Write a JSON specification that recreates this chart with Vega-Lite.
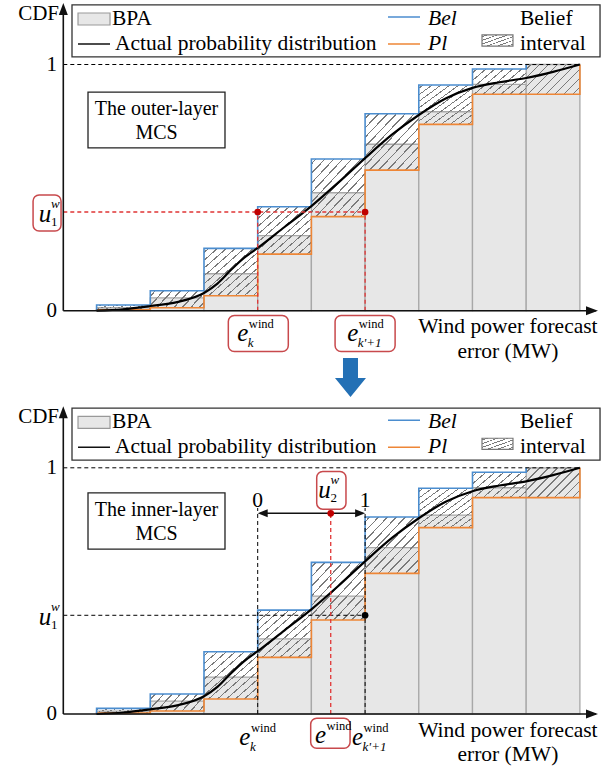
{
"$schema": "https://vega.github.io/schema/vega-lite/v6.json",
"background": "white",
"padding": 0,
"spacing": 0,
"bounds": "flush",
"config": {"view": {"stroke": null}, "text": {"font": "Liberation Serif", "color": "#000"}},
"datasets": {
"bins": [
{"k":1,"x0":1,"x1":2,"bel":0.023,"mid":0.012,"pl":0.004},
{"k":2,"x0":2,"x1":3,"bel":0.081,"mid":0.052,"pl":0.012},
{"k":3,"x0":3,"x1":4,"bel":0.253,"mid":0.150,"pl":0.061},
{"k":4,"x0":4,"x1":5,"bel":0.422,"mid":0.305,"pl":0.230},
{"k":5,"x0":5,"x1":6,"bel":0.616,"mid":0.479,"pl":0.382},
{"k":6,"x0":6,"x1":7,"bel":0.800,"mid":0.676,"pl":0.571},
{"k":7,"x0":7,"x1":8,"bel":0.917,"mid":0.808,"pl":0.757},
{"k":8,"x0":8,"x1":9,"bel":0.982,"mid":0.919,"pl":0.879},
{"k":9,"x0":9,"x1":10,"bel":1.0,"mid":1.0,"pl":0.879}],
"bel": [
{"i":0,"x":1,"y":0},{"i":1,"x":1,"y":0.023},{"i":2,"x":2,"y":0.081},{"i":3,"x":3,"y":0.253},{"i":4,"x":4,"y":0.422},{"i":5,"x":5,"y":0.616},{"i":6,"x":6,"y":0.800},{"i":7,"x":7,"y":0.917},{"i":8,"x":8,"y":0.982},{"i":9,"x":9,"y":1.0}],
"pl": [
{"i":0,"x":1,"y":0},{"i":1,"x":1,"y":0.004},{"i":2,"x":2,"y":0.012},{"i":3,"x":3,"y":0.061},{"i":4,"x":4,"y":0.230},{"i":5,"x":5,"y":0.382},{"i":6,"x":6,"y":0.571},{"i":7,"x":7,"y":0.757},{"i":8,"x":8,"y":0.879},{"i":9,"x":9,"y":0.879},{"i":10,"x":10,"y":0.879},{"i":11,"x":10,"y":1.0}],
"cdf": [
{"x":1,"y":0},{"x":1.5,"y":0.006},{"x":2,"y":0.019},{"x":2.5,"y":0.035},{"x":3,"y":0.072},{"x":3.25,"y":0.11},{"x":3.5,"y":0.165},{"x":3.75,"y":0.215},{"x":4,"y":0.255},{"x":4.5,"y":0.34},{"x":5,"y":0.425},{"x":5.5,"y":0.52},{"x":6,"y":0.62},{"x":6.5,"y":0.715},{"x":7,"y":0.795},{"x":7.5,"y":0.862},{"x":8,"y":0.905},{"x":8.5,"y":0.928},{"x":9,"y":0.945},{"x":9.5,"y":0.97},{"x":10,"y":1.0}],
"legendLeft": [
{"x":1.287,"y":1.185,"t":"BPA"},{"x":1.343,"y":1.083,"t":"Actual probability distribution"},{"x":8.885,"y":1.185,"t":"Belief"},{"x":8.885,"y":1.083,"t":"interval"}],
"legendItalic": [
{"x":7.1715,"y":1.185,"t":"Bel"},{"x":7.1715,"y":1.083,"t":"Pl"}],
"axisLabels": [
{"x":0.30,"y":1.205,"t":"CDF"},{"x":0.263,"y":1,"t":"1"},{"x":0.263,"y":0,"t":"0"}],
"axisSolid": [
{"x":0.38,"x2":0.38,"y":0,"y2":1.215},{"x":0.38,"x2":10.3,"y":0,"y2":0}],
"blackLegend": [{"x":0.654,"x2":1.25,"y":1.083,"y2":1.083}],
"legendBox": [{"x":0.542,"x2":10.375,"y":1.031,"y2":1.242}],
"bpaSwatch": [{"x":0.654,"x2":1.25,"y":1.1604,"y2":1.2092}],
"hatchSwatch": [{"x":8.177,"x2":8.754,"y":1.075,"y2":1.12}],
"blueLegend": [{"x":6.4266,"x2":7.0225,"y":1.193,"y2":1.193}],
"orangeLegend": [{"x":6.4266,"x2":7.0225,"y":1.083,"y2":1.083}],
"yArrow": [{"x":0.38,"y":1.25}],
"xArrow": [{"x":10.337,"y":0}]
},
"vconcat": [
{
"width": 608, "height": 403,
"layer": [
{"data":{"name":"bins"},"mark":{"type":"rect","fill":"#e7e7e7","stroke":"#a8a8a8","strokeWidth":1.3},
"encoding":{"x":{"field":"x0","type":"quantitative","scale":{"domain":[-0.7988,10.5234],"nice":false,"zero":false},"axis":null},"x2":{"field":"x1"},"y":{"field":"mid","type":"quantitative","scale":{"domain":[-0.3749,1.262],"nice":false,"zero":false},"axis":null},"y2":{"datum":0}}},
{"data":{"name":"bins"},"transform":[{"filter":"datum.k >= 3 && datum.k <= 7"}],"mark":{"type":"rect","strokeWidth":0,"fill":{"gradient":"linear","x1":0,"y1":0,"x2":1,"y2":1,"stops":[
{"offset":0,"color":"rgba(122,122,122,0)"},
{"offset":0.035,"color":"rgba(122,122,122,0)"},{"offset":0.035,"color":"#7a7a7a"},{"offset":0.049,"color":"#7a7a7a"},{"offset":0.049,"color":"rgba(122,122,122,0)"},
{"offset":0.1183,"color":"rgba(122,122,122,0)"},{"offset":0.1183,"color":"#7a7a7a"},{"offset":0.1323,"color":"#7a7a7a"},{"offset":0.1323,"color":"rgba(122,122,122,0)"},
{"offset":0.2017,"color":"rgba(122,122,122,0)"},{"offset":0.2017,"color":"#7a7a7a"},{"offset":0.2157,"color":"#7a7a7a"},{"offset":0.2157,"color":"rgba(122,122,122,0)"},
{"offset":0.285,"color":"rgba(122,122,122,0)"},{"offset":0.285,"color":"#7a7a7a"},{"offset":0.299,"color":"#7a7a7a"},{"offset":0.299,"color":"rgba(122,122,122,0)"},
{"offset":0.3683,"color":"rgba(122,122,122,0)"},{"offset":0.3683,"color":"#7a7a7a"},{"offset":0.3823,"color":"#7a7a7a"},{"offset":0.3823,"color":"rgba(122,122,122,0)"},
{"offset":0.4517,"color":"rgba(122,122,122,0)"},{"offset":0.4517,"color":"#7a7a7a"},{"offset":0.4657,"color":"#7a7a7a"},{"offset":0.4657,"color":"rgba(122,122,122,0)"},
{"offset":0.535,"color":"rgba(122,122,122,0)"},{"offset":0.535,"color":"#7a7a7a"},{"offset":0.549,"color":"#7a7a7a"},{"offset":0.549,"color":"rgba(122,122,122,0)"},
{"offset":0.6183,"color":"rgba(122,122,122,0)"},{"offset":0.6183,"color":"#7a7a7a"},{"offset":0.6323,"color":"#7a7a7a"},{"offset":0.6323,"color":"rgba(122,122,122,0)"},
{"offset":0.7017,"color":"rgba(122,122,122,0)"},{"offset":0.7017,"color":"#7a7a7a"},{"offset":0.7157,"color":"#7a7a7a"},{"offset":0.7157,"color":"rgba(122,122,122,0)"},
{"offset":0.785,"color":"rgba(122,122,122,0)"},{"offset":0.785,"color":"#7a7a7a"},{"offset":0.799,"color":"#7a7a7a"},{"offset":0.799,"color":"rgba(122,122,122,0)"},
{"offset":0.8683,"color":"rgba(122,122,122,0)"},{"offset":0.8683,"color":"#7a7a7a"},{"offset":0.8823,"color":"#7a7a7a"},{"offset":0.8823,"color":"rgba(122,122,122,0)"},
{"offset":0.9517,"color":"rgba(122,122,122,0)"},{"offset":0.9517,"color":"#7a7a7a"},{"offset":0.9657,"color":"#7a7a7a"},{"offset":0.9657,"color":"rgba(122,122,122,0)"},
{"offset":1,"color":"rgba(122,122,122,0)"}]}},
"encoding":{"x":{"field":"x0","type":"quantitative","scale":{"domain":[-0.7988,10.5234],"nice":false,"zero":false},"axis":null},"x2":{"field":"x1"},"y":{"field":"bel","type":"quantitative","scale":{"domain":[-0.3749,1.262],"nice":false,"zero":false},"axis":null},"y2":{"field":"pl"}}},
{"data":{"name":"bins"},"transform":[{"filter":"datum.k >= 8"}],"mark":{"type":"rect","strokeWidth":0,"fill":{"gradient":"linear","x1":0,"y1":0,"x2":1.8,"y2":1,"stops":[
{"offset":0,"color":"rgba(122,122,122,0)"},
{"offset":0.03,"color":"rgba(122,122,122,0)"},{"offset":0.03,"color":"#7a7a7a"},{"offset":0.042,"color":"#7a7a7a"},{"offset":0.042,"color":"rgba(122,122,122,0)"},
{"offset":0.1008,"color":"rgba(122,122,122,0)"},{"offset":0.1008,"color":"#7a7a7a"},{"offset":0.1128,"color":"#7a7a7a"},{"offset":0.1128,"color":"rgba(122,122,122,0)"},
{"offset":0.1716,"color":"rgba(122,122,122,0)"},{"offset":0.1716,"color":"#7a7a7a"},{"offset":0.1836,"color":"#7a7a7a"},{"offset":0.1836,"color":"rgba(122,122,122,0)"},
{"offset":0.2424,"color":"rgba(122,122,122,0)"},{"offset":0.2424,"color":"#7a7a7a"},{"offset":0.2544,"color":"#7a7a7a"},{"offset":0.2544,"color":"rgba(122,122,122,0)"},
{"offset":0.3132,"color":"rgba(122,122,122,0)"},{"offset":0.3132,"color":"#7a7a7a"},{"offset":0.3252,"color":"#7a7a7a"},{"offset":0.3252,"color":"rgba(122,122,122,0)"},
{"offset":0.384,"color":"rgba(122,122,122,0)"},{"offset":0.384,"color":"#7a7a7a"},{"offset":0.396,"color":"#7a7a7a"},{"offset":0.396,"color":"rgba(122,122,122,0)"},
{"offset":0.4548,"color":"rgba(122,122,122,0)"},{"offset":0.4548,"color":"#7a7a7a"},{"offset":0.4668,"color":"#7a7a7a"},{"offset":0.4668,"color":"rgba(122,122,122,0)"},
{"offset":0.5256,"color":"rgba(122,122,122,0)"},{"offset":0.5256,"color":"#7a7a7a"},{"offset":0.5376,"color":"#7a7a7a"},{"offset":0.5376,"color":"rgba(122,122,122,0)"},
{"offset":0.5964,"color":"rgba(122,122,122,0)"},{"offset":0.5964,"color":"#7a7a7a"},{"offset":0.6084,"color":"#7a7a7a"},{"offset":0.6084,"color":"rgba(122,122,122,0)"},
{"offset":0.6672,"color":"rgba(122,122,122,0)"},{"offset":0.6672,"color":"#7a7a7a"},{"offset":0.6792,"color":"#7a7a7a"},{"offset":0.6792,"color":"rgba(122,122,122,0)"},
{"offset":1,"color":"rgba(122,122,122,0)"}]}},
"encoding":{"x":{"field":"x0","type":"quantitative","scale":{"domain":[-0.7988,10.5234],"nice":false,"zero":false},"axis":null},"x2":{"field":"x1"},"y":{"field":"bel","type":"quantitative","scale":{"domain":[-0.3749,1.262],"nice":false,"zero":false},"axis":null},"y2":{"field":"pl"}}},
{"data":{"name":"bins"},"transform":[{"filter":"datum.k <= 2"}],"mark":{"type":"rect","strokeWidth":0,"fill":{"gradient":"linear","x1":0,"y1":0,"x2":3.5,"y2":1,"stops":[
{"offset":0,"color":"rgba(122,122,122,0)"},
{"offset":0.02,"color":"rgba(122,122,122,0)"},{"offset":0.02,"color":"#7a7a7a"},{"offset":0.028,"color":"#7a7a7a"},{"offset":0.028,"color":"rgba(122,122,122,0)"},
{"offset":0.0616,"color":"rgba(122,122,122,0)"},{"offset":0.0616,"color":"#7a7a7a"},{"offset":0.0696,"color":"#7a7a7a"},{"offset":0.0696,"color":"rgba(122,122,122,0)"},
{"offset":0.1032,"color":"rgba(122,122,122,0)"},{"offset":0.1032,"color":"#7a7a7a"},{"offset":0.1112,"color":"#7a7a7a"},{"offset":0.1112,"color":"rgba(122,122,122,0)"},
{"offset":0.1448,"color":"rgba(122,122,122,0)"},{"offset":0.1448,"color":"#7a7a7a"},{"offset":0.1528,"color":"#7a7a7a"},{"offset":0.1528,"color":"rgba(122,122,122,0)"},
{"offset":0.1864,"color":"rgba(122,122,122,0)"},{"offset":0.1864,"color":"#7a7a7a"},{"offset":0.1944,"color":"#7a7a7a"},{"offset":0.1944,"color":"rgba(122,122,122,0)"},
{"offset":0.228,"color":"rgba(122,122,122,0)"},{"offset":0.228,"color":"#7a7a7a"},{"offset":0.236,"color":"#7a7a7a"},{"offset":0.236,"color":"rgba(122,122,122,0)"},
{"offset":0.2696,"color":"rgba(122,122,122,0)"},{"offset":0.2696,"color":"#7a7a7a"},{"offset":0.2776,"color":"#7a7a7a"},{"offset":0.2776,"color":"rgba(122,122,122,0)"},
{"offset":0.3112,"color":"rgba(122,122,122,0)"},{"offset":0.3112,"color":"#7a7a7a"},{"offset":0.3192,"color":"#7a7a7a"},{"offset":0.3192,"color":"rgba(122,122,122,0)"},
{"offset":0.3528,"color":"rgba(122,122,122,0)"},{"offset":0.3528,"color":"#7a7a7a"},{"offset":0.3608,"color":"#7a7a7a"},{"offset":0.3608,"color":"rgba(122,122,122,0)"},
{"offset":1,"color":"rgba(122,122,122,0)"}]}},
"encoding":{"x":{"field":"x0","type":"quantitative","scale":{"domain":[-0.7988,10.5234],"nice":false,"zero":false},"axis":null},"x2":{"field":"x1"},"y":{"field":"bel","type":"quantitative","scale":{"domain":[-0.3749,1.262],"nice":false,"zero":false},"axis":null},"y2":{"field":"pl"}}},
{"data":{"name":"pl"},"mark":{"type":"line","interpolate":"step-after","color":"#ee8636","strokeWidth":1.6},
"encoding":{"x":{"field":"x","type":"quantitative","scale":{"domain":[-0.7988,10.5234],"nice":false,"zero":false},"axis":null},"y":{"field":"y","type":"quantitative","scale":{"domain":[-0.3749,1.262],"nice":false,"zero":false},"axis":null},"order":{"field":"i","type":"quantitative"}}},
{"data":{"name":"bel"},"mark":{"type":"line","interpolate":"step-after","color":"#4b8dcf","strokeWidth":1.6},
"encoding":{"x":{"field":"x","type":"quantitative","scale":{"domain":[-0.7988,10.5234],"nice":false,"zero":false},"axis":null},"y":{"field":"y","type":"quantitative","scale":{"domain":[-0.3749,1.262],"nice":false,"zero":false},"axis":null},"order":{"field":"i","type":"quantitative"}}},
{"data":{"name":"cdf"},"mark":{"type":"line","interpolate":"monotone","color":"#000","strokeWidth":2.2},
"encoding":{"x":{"field":"x","type":"quantitative","scale":{"domain":[-0.7988,10.5234],"nice":false,"zero":false},"axis":null},"y":{"field":"y","type":"quantitative","scale":{"domain":[-0.3749,1.262],"nice":false,"zero":false},"axis":null}}},
{"data":{"values":[{"x":0.38,"x2":10,"y":1,"y2":1}]},"mark":{"type":"rule","color":"#000","strokeWidth":1,"strokeDash":[4,3]},
"encoding":{"x":{"field":"x","type":"quantitative","scale":{"domain":[-0.7988,10.5234],"nice":false,"zero":false},"axis":null},"x2":{"field":"x2"},"y":{"field":"y","type":"quantitative","scale":{"domain":[-0.3749,1.262],"nice":false,"zero":false},"axis":null},"y2":{"field":"y2"}}},
{"data":{"values":[{"x":0.38,"x2":6,"y":0.4009,"y2":0.4009},{"x":4,"x2":4,"y":0,"y2":0.4009},{"x":6,"x2":6,"y":0,"y2":0.4009}]},"mark":{"type":"rule","color":"#e03535","strokeWidth":1.3,"strokeDash":[4,3]},
"encoding":{"x":{"field":"x","type":"quantitative","scale":{"domain":[-0.7988,10.5234],"nice":false,"zero":false},"axis":null},"x2":{"field":"x2"},"y":{"field":"y","type":"quantitative","scale":{"domain":[-0.3749,1.262],"nice":false,"zero":false},"axis":null},"y2":{"field":"y2"}}},
{"data":{"name":"axisSolid"},"mark":{"type":"rule","color":"#111","strokeWidth":1.6},
"encoding":{"x":{"field":"x","type":"quantitative","scale":{"domain":[-0.7988,10.5234],"nice":false,"zero":false},"axis":null},"x2":{"field":"x2"},"y":{"field":"y","type":"quantitative","scale":{"domain":[-0.3749,1.262],"nice":false,"zero":false},"axis":null},"y2":{"field":"y2"}}},
{"data":{"name":"yArrow"},"mark":{"type":"point","shape":"M0,0L0.75,2L-0.75,2Z","size":144,"filled":true,"color":"#111","opacity":1,"strokeWidth":0},
"encoding":{"x":{"field":"x","type":"quantitative","scale":{"domain":[-0.7988,10.5234],"nice":false,"zero":false},"axis":null},"y":{"field":"y","type":"quantitative","scale":{"domain":[-0.3749,1.262],"nice":false,"zero":false},"axis":null}}},
{"data":{"name":"xArrow"},"mark":{"type":"point","shape":"M0,0L-2,-0.75L-2,0.75Z","size":144,"filled":true,"color":"#111","opacity":1,"strokeWidth":0},
"encoding":{"x":{"field":"x","type":"quantitative","scale":{"domain":[-0.7988,10.5234],"nice":false,"zero":false},"axis":null},"y":{"field":"y","type":"quantitative","scale":{"domain":[-0.3749,1.262],"nice":false,"zero":false},"axis":null}}},
{"data":{"name":"legendBox"},"mark":{"type":"rect","fill":"white","stroke":"#333","strokeWidth":1.3},
"encoding":{"x":{"field":"x","type":"quantitative","scale":{"domain":[-0.7988,10.5234],"nice":false,"zero":false},"axis":null},"x2":{"field":"x2"},"y":{"field":"y","type":"quantitative","scale":{"domain":[-0.3749,1.262],"nice":false,"zero":false},"axis":null},"y2":{"field":"y2"}}},
{"data":{"name":"bpaSwatch"},"mark":{"type":"rect","fill":"#e7e7e7","stroke":"#999","strokeWidth":1.2},
"encoding":{"x":{"field":"x","type":"quantitative","scale":{"domain":[-0.7988,10.5234],"nice":false,"zero":false},"axis":null},"x2":{"field":"x2"},"y":{"field":"y","type":"quantitative","scale":{"domain":[-0.3749,1.262],"nice":false,"zero":false},"axis":null},"y2":{"field":"y2"}}},
{"data":{"name":"hatchSwatch"},"mark":{"type":"rect","stroke":"#777","strokeWidth":1.2,"fill":{"gradient":"linear","x1":0,"y1":0,"x2":1,"y2":1,"stops":[
{"offset":0,"color":"rgba(122,122,122,0)"},
{"offset":0.06,"color":"rgba(122,122,122,0)"},{"offset":0.06,"color":"#7a7a7a"},{"offset":0.1,"color":"#7a7a7a"},{"offset":0.1,"color":"rgba(122,122,122,0)"},
{"offset":0.227,"color":"rgba(122,122,122,0)"},{"offset":0.227,"color":"#7a7a7a"},{"offset":0.267,"color":"#7a7a7a"},{"offset":0.267,"color":"rgba(122,122,122,0)"},
{"offset":0.393,"color":"rgba(122,122,122,0)"},{"offset":0.393,"color":"#7a7a7a"},{"offset":0.433,"color":"#7a7a7a"},{"offset":0.433,"color":"rgba(122,122,122,0)"},
{"offset":0.56,"color":"rgba(122,122,122,0)"},{"offset":0.56,"color":"#7a7a7a"},{"offset":0.6,"color":"#7a7a7a"},{"offset":0.6,"color":"rgba(122,122,122,0)"},
{"offset":0.727,"color":"rgba(122,122,122,0)"},{"offset":0.727,"color":"#7a7a7a"},{"offset":0.767,"color":"#7a7a7a"},{"offset":0.767,"color":"rgba(122,122,122,0)"},
{"offset":0.893,"color":"rgba(122,122,122,0)"},{"offset":0.893,"color":"#7a7a7a"},{"offset":0.933,"color":"#7a7a7a"},{"offset":0.933,"color":"rgba(122,122,122,0)"},
{"offset":1,"color":"rgba(122,122,122,0)"}]}},
"encoding":{"x":{"field":"x","type":"quantitative","scale":{"domain":[-0.7988,10.5234],"nice":false,"zero":false},"axis":null},"x2":{"field":"x2"},"y":{"field":"y","type":"quantitative","scale":{"domain":[-0.3749,1.262],"nice":false,"zero":false},"axis":null},"y2":{"field":"y2"}}},
{"data":{"name":"blackLegend"},"mark":{"type":"rule","color":"#111","strokeWidth":1.5},
"encoding":{"x":{"field":"x","type":"quantitative","scale":{"domain":[-0.7988,10.5234],"nice":false,"zero":false},"axis":null},"x2":{"field":"x2"},"y":{"field":"y","type":"quantitative","scale":{"domain":[-0.3749,1.262],"nice":false,"zero":false},"axis":null}}},
{"data":{"name":"blueLegend"},"mark":{"type":"rule","color":"#4b8dcf","strokeWidth":1.5},
"encoding":{"x":{"field":"x","type":"quantitative","scale":{"domain":[-0.7988,10.5234],"nice":false,"zero":false},"axis":null},"x2":{"field":"x2"},"y":{"field":"y","type":"quantitative","scale":{"domain":[-0.3749,1.262],"nice":false,"zero":false},"axis":null}}},
{"data":{"name":"orangeLegend"},"mark":{"type":"rule","color":"#ee8636","strokeWidth":1.5},
"encoding":{"x":{"field":"x","type":"quantitative","scale":{"domain":[-0.7988,10.5234],"nice":false,"zero":false},"axis":null},"x2":{"field":"x2"},"y":{"field":"y","type":"quantitative","scale":{"domain":[-0.3749,1.262],"nice":false,"zero":false},"axis":null}}},
{"data":{"values":[{"x":0.84,"x2":3.391,"y":0.661,"y2":0.888}]},"mark":{"type":"rect","fill":"white","stroke":"#222","strokeWidth":1.3},
"encoding":{"x":{"field":"x","type":"quantitative","scale":{"domain":[-0.7988,10.5234],"nice":false,"zero":false},"axis":null},"x2":{"field":"x2"},"y":{"field":"y","type":"quantitative","scale":{"domain":[-0.3749,1.262],"nice":false,"zero":false},"axis":null},"y2":{"field":"y2"}}},
{"data":{"values":[{"x":-0.183,"x2":0.338,"y":0.3237,"y2":0.47},{"x":3.453,"x2":4.57,"y":-0.1657,"y2":-0.0195},{"x":5.441,"x2":6.559,"y":-0.1657,"y2":-0.0195}]},"mark":{"type":"rect","fill":"white","stroke":"#c8494c","strokeWidth":1.5,"cornerRadius":6},
"encoding":{"x":{"field":"x","type":"quantitative","scale":{"domain":[-0.7988,10.5234],"nice":false,"zero":false},"axis":null},"x2":{"field":"x2"},"y":{"field":"y","type":"quantitative","scale":{"domain":[-0.3749,1.262],"nice":false,"zero":false},"axis":null},"y2":{"field":"y2"}}},
{"data":{"name":"legendLeft"},"mark":{"type":"text","align":"left","baseline":"middle","fontSize":21.5},
"encoding":{"x":{"field":"x","type":"quantitative","scale":{"domain":[-0.7988,10.5234],"nice":false,"zero":false},"axis":null},"y":{"field":"y","type":"quantitative","scale":{"domain":[-0.3749,1.262],"nice":false,"zero":false},"axis":null},"text":{"field":"t"}}},
{"data":{"name":"legendItalic"},"mark":{"type":"text","align":"left","baseline":"middle","fontSize":21.5,"fontStyle":"italic"},
"encoding":{"x":{"field":"x","type":"quantitative","scale":{"domain":[-0.7988,10.5234],"nice":false,"zero":false},"axis":null},"y":{"field":"y","type":"quantitative","scale":{"domain":[-0.3749,1.262],"nice":false,"zero":false},"axis":null},"text":{"field":"t"}}},
{"data":{"name":"axisLabels"},"mark":{"type":"text","align":"right","baseline":"middle","fontSize":21},
"encoding":{"x":{"field":"x","type":"quantitative","scale":{"domain":[-0.7988,10.5234],"nice":false,"zero":false},"axis":null},"y":{"field":"y","type":"quantitative","scale":{"domain":[-0.3749,1.262],"nice":false,"zero":false},"axis":null},"text":{"field":"t"}}},
{"data":{"values":[{"x":2.116,"y":0.819,"t":"The outer-layer"},{"x":2.116,"y":0.722,"t":"MCS"}]},"mark":{"type":"text","align":"center","baseline":"middle","fontSize":20},
"encoding":{"x":{"field":"x","type":"quantitative","scale":{"domain":[-0.7988,10.5234],"nice":false,"zero":false},"axis":null},"y":{"field":"y","type":"quantitative","scale":{"domain":[-0.3749,1.262],"nice":false,"zero":false},"axis":null},"text":{"field":"t"}}},
{"data":{"values":[{"x":8.659,"y":-0.066,"t":"Wind power forecast"},{"x":8.659,"y":-0.168,"t":"error (MW)"}]},"mark":{"type":"text","align":"center","baseline":"middle","fontSize":21.5},
"encoding":{"x":{"field":"x","type":"quantitative","scale":{"domain":[-0.7988,10.5234],"nice":false,"zero":false},"axis":null},"y":{"field":"y","type":"quantitative","scale":{"domain":[-0.3749,1.262],"nice":false,"zero":false},"axis":null},"text":{"field":"t"}}},
{"data":{"values":[{"x":3.724,"y":-0.09,"b":"e","sp":"wind","sb":"k"},{"x":5.769,"y":-0.09,"b":"e","sp":"wind","sb":"k'+1"}]},
"encoding":{"x":{"field":"x","type":"quantitative","scale":{"domain":[-0.7988,10.5234],"nice":false,"zero":false},"axis":null},"y":{"field":"y","type":"quantitative","scale":{"domain":[-0.3749,1.262],"nice":false,"zero":false},"axis":null}},
"layer":[
{"mark":{"type":"text","align":"center","baseline":"middle","fontSize":25,"fontStyle":"italic"},"encoding":{"text":{"field":"b"}}},
{"mark":{"type":"text","align":"left","baseline":"middle","fontSize":12.5,"dx":6,"dy":-9},"encoding":{"text":{"field":"sp"}}},
{"mark":{"type":"text","align":"left","baseline":"middle","fontSize":13,"fontStyle":"italic","dx":5,"dy":10},"encoding":{"text":{"field":"sb"}}}]},
{"data":{"values":[{"x":0.039,"y":0.393,"b":"u","sp":"w","sb":"1"}]},
"encoding":{"x":{"field":"x","type":"quantitative","scale":{"domain":[-0.7988,10.5234],"nice":false,"zero":false},"axis":null},"y":{"field":"y","type":"quantitative","scale":{"domain":[-0.3749,1.262],"nice":false,"zero":false},"axis":null}},
"layer":[
{"mark":{"type":"text","align":"center","baseline":"middle","fontSize":25,"fontStyle":"italic"},"encoding":{"text":{"field":"b"}}},
{"mark":{"type":"text","align":"left","baseline":"middle","fontSize":13,"fontStyle":"italic","dx":6,"dy":-10},"encoding":{"text":{"field":"sp"}}},
{"mark":{"type":"text","align":"left","baseline":"middle","fontSize":13,"dx":6,"dy":8},"encoding":{"text":{"field":"sb"}}}]},
{"data":{"values":[{"x":4,"y":0.4009},{"x":6,"y":0.4009}]},"mark":{"type":"circle","size":45,"color":"#c00000","opacity":1},
"encoding":{"x":{"field":"x","type":"quantitative","scale":{"domain":[-0.7988,10.5234],"nice":false,"zero":false},"axis":null},"y":{"field":"y","type":"quantitative","scale":{"domain":[-0.3749,1.262],"nice":false,"zero":false},"axis":null}}},
{"data":{"values":[{"x":5.728,"y":-0.2713}]},"mark":{"type":"point","shape":"M-0.375,-0.975L0.375,-0.975L0.375,0.025L0.775,0.025L0,0.975L-0.775,0.025L-0.375,0.025Z","size":1600,"filled":true,"color":"#2370b5","opacity":1,"strokeWidth":0},
"encoding":{"x":{"field":"x","type":"quantitative","scale":{"domain":[-0.7988,10.5234],"nice":false,"zero":false},"axis":null},"y":{"field":"y","type":"quantitative","scale":{"domain":[-0.3749,1.262],"nice":false,"zero":false},"axis":null}}}
]
},
{
"width": 608, "height": 367,
"layer": [
{"data":{"name":"bins"},"mark":{"type":"rect","fill":"#e7e7e7","stroke":"#a8a8a8","strokeWidth":1.3},
"encoding":{"x":{"field":"x0","type":"quantitative","scale":{"domain":[-0.7988,10.5234],"nice":false,"zero":false},"axis":null},"x2":{"field":"x1"},"y":{"field":"mid","type":"quantitative","scale":{"domain":[-0.2275,1.2632],"nice":false,"zero":false},"axis":null},"y2":{"datum":0}}},
{"data":{"name":"bins"},"transform":[{"filter":"datum.k >= 3 && datum.k <= 7"}],"mark":{"type":"rect","strokeWidth":0,"fill":{"gradient":"linear","x1":0,"y1":0,"x2":1,"y2":1,"stops":[
{"offset":0,"color":"rgba(122,122,122,0)"},
{"offset":0.035,"color":"rgba(122,122,122,0)"},{"offset":0.035,"color":"#7a7a7a"},{"offset":0.049,"color":"#7a7a7a"},{"offset":0.049,"color":"rgba(122,122,122,0)"},
{"offset":0.1183,"color":"rgba(122,122,122,0)"},{"offset":0.1183,"color":"#7a7a7a"},{"offset":0.1323,"color":"#7a7a7a"},{"offset":0.1323,"color":"rgba(122,122,122,0)"},
{"offset":0.2017,"color":"rgba(122,122,122,0)"},{"offset":0.2017,"color":"#7a7a7a"},{"offset":0.2157,"color":"#7a7a7a"},{"offset":0.2157,"color":"rgba(122,122,122,0)"},
{"offset":0.285,"color":"rgba(122,122,122,0)"},{"offset":0.285,"color":"#7a7a7a"},{"offset":0.299,"color":"#7a7a7a"},{"offset":0.299,"color":"rgba(122,122,122,0)"},
{"offset":0.3683,"color":"rgba(122,122,122,0)"},{"offset":0.3683,"color":"#7a7a7a"},{"offset":0.3823,"color":"#7a7a7a"},{"offset":0.3823,"color":"rgba(122,122,122,0)"},
{"offset":0.4517,"color":"rgba(122,122,122,0)"},{"offset":0.4517,"color":"#7a7a7a"},{"offset":0.4657,"color":"#7a7a7a"},{"offset":0.4657,"color":"rgba(122,122,122,0)"},
{"offset":0.535,"color":"rgba(122,122,122,0)"},{"offset":0.535,"color":"#7a7a7a"},{"offset":0.549,"color":"#7a7a7a"},{"offset":0.549,"color":"rgba(122,122,122,0)"},
{"offset":0.6183,"color":"rgba(122,122,122,0)"},{"offset":0.6183,"color":"#7a7a7a"},{"offset":0.6323,"color":"#7a7a7a"},{"offset":0.6323,"color":"rgba(122,122,122,0)"},
{"offset":0.7017,"color":"rgba(122,122,122,0)"},{"offset":0.7017,"color":"#7a7a7a"},{"offset":0.7157,"color":"#7a7a7a"},{"offset":0.7157,"color":"rgba(122,122,122,0)"},
{"offset":0.785,"color":"rgba(122,122,122,0)"},{"offset":0.785,"color":"#7a7a7a"},{"offset":0.799,"color":"#7a7a7a"},{"offset":0.799,"color":"rgba(122,122,122,0)"},
{"offset":0.8683,"color":"rgba(122,122,122,0)"},{"offset":0.8683,"color":"#7a7a7a"},{"offset":0.8823,"color":"#7a7a7a"},{"offset":0.8823,"color":"rgba(122,122,122,0)"},
{"offset":0.9517,"color":"rgba(122,122,122,0)"},{"offset":0.9517,"color":"#7a7a7a"},{"offset":0.9657,"color":"#7a7a7a"},{"offset":0.9657,"color":"rgba(122,122,122,0)"},
{"offset":1,"color":"rgba(122,122,122,0)"}]}},
"encoding":{"x":{"field":"x0","type":"quantitative","scale":{"domain":[-0.7988,10.5234],"nice":false,"zero":false},"axis":null},"x2":{"field":"x1"},"y":{"field":"bel","type":"quantitative","scale":{"domain":[-0.2275,1.2632],"nice":false,"zero":false},"axis":null},"y2":{"field":"pl"}}},
{"data":{"name":"bins"},"transform":[{"filter":"datum.k >= 8"}],"mark":{"type":"rect","strokeWidth":0,"fill":{"gradient":"linear","x1":0,"y1":0,"x2":1.8,"y2":1,"stops":[
{"offset":0,"color":"rgba(122,122,122,0)"},
{"offset":0.03,"color":"rgba(122,122,122,0)"},{"offset":0.03,"color":"#7a7a7a"},{"offset":0.042,"color":"#7a7a7a"},{"offset":0.042,"color":"rgba(122,122,122,0)"},
{"offset":0.1008,"color":"rgba(122,122,122,0)"},{"offset":0.1008,"color":"#7a7a7a"},{"offset":0.1128,"color":"#7a7a7a"},{"offset":0.1128,"color":"rgba(122,122,122,0)"},
{"offset":0.1716,"color":"rgba(122,122,122,0)"},{"offset":0.1716,"color":"#7a7a7a"},{"offset":0.1836,"color":"#7a7a7a"},{"offset":0.1836,"color":"rgba(122,122,122,0)"},
{"offset":0.2424,"color":"rgba(122,122,122,0)"},{"offset":0.2424,"color":"#7a7a7a"},{"offset":0.2544,"color":"#7a7a7a"},{"offset":0.2544,"color":"rgba(122,122,122,0)"},
{"offset":0.3132,"color":"rgba(122,122,122,0)"},{"offset":0.3132,"color":"#7a7a7a"},{"offset":0.3252,"color":"#7a7a7a"},{"offset":0.3252,"color":"rgba(122,122,122,0)"},
{"offset":0.384,"color":"rgba(122,122,122,0)"},{"offset":0.384,"color":"#7a7a7a"},{"offset":0.396,"color":"#7a7a7a"},{"offset":0.396,"color":"rgba(122,122,122,0)"},
{"offset":0.4548,"color":"rgba(122,122,122,0)"},{"offset":0.4548,"color":"#7a7a7a"},{"offset":0.4668,"color":"#7a7a7a"},{"offset":0.4668,"color":"rgba(122,122,122,0)"},
{"offset":0.5256,"color":"rgba(122,122,122,0)"},{"offset":0.5256,"color":"#7a7a7a"},{"offset":0.5376,"color":"#7a7a7a"},{"offset":0.5376,"color":"rgba(122,122,122,0)"},
{"offset":0.5964,"color":"rgba(122,122,122,0)"},{"offset":0.5964,"color":"#7a7a7a"},{"offset":0.6084,"color":"#7a7a7a"},{"offset":0.6084,"color":"rgba(122,122,122,0)"},
{"offset":0.6672,"color":"rgba(122,122,122,0)"},{"offset":0.6672,"color":"#7a7a7a"},{"offset":0.6792,"color":"#7a7a7a"},{"offset":0.6792,"color":"rgba(122,122,122,0)"},
{"offset":1,"color":"rgba(122,122,122,0)"}]}},
"encoding":{"x":{"field":"x0","type":"quantitative","scale":{"domain":[-0.7988,10.5234],"nice":false,"zero":false},"axis":null},"x2":{"field":"x1"},"y":{"field":"bel","type":"quantitative","scale":{"domain":[-0.2275,1.2632],"nice":false,"zero":false},"axis":null},"y2":{"field":"pl"}}},
{"data":{"name":"bins"},"transform":[{"filter":"datum.k <= 2"}],"mark":{"type":"rect","strokeWidth":0,"fill":{"gradient":"linear","x1":0,"y1":0,"x2":3.5,"y2":1,"stops":[
{"offset":0,"color":"rgba(122,122,122,0)"},
{"offset":0.02,"color":"rgba(122,122,122,0)"},{"offset":0.02,"color":"#7a7a7a"},{"offset":0.028,"color":"#7a7a7a"},{"offset":0.028,"color":"rgba(122,122,122,0)"},
{"offset":0.0616,"color":"rgba(122,122,122,0)"},{"offset":0.0616,"color":"#7a7a7a"},{"offset":0.0696,"color":"#7a7a7a"},{"offset":0.0696,"color":"rgba(122,122,122,0)"},
{"offset":0.1032,"color":"rgba(122,122,122,0)"},{"offset":0.1032,"color":"#7a7a7a"},{"offset":0.1112,"color":"#7a7a7a"},{"offset":0.1112,"color":"rgba(122,122,122,0)"},
{"offset":0.1448,"color":"rgba(122,122,122,0)"},{"offset":0.1448,"color":"#7a7a7a"},{"offset":0.1528,"color":"#7a7a7a"},{"offset":0.1528,"color":"rgba(122,122,122,0)"},
{"offset":0.1864,"color":"rgba(122,122,122,0)"},{"offset":0.1864,"color":"#7a7a7a"},{"offset":0.1944,"color":"#7a7a7a"},{"offset":0.1944,"color":"rgba(122,122,122,0)"},
{"offset":0.228,"color":"rgba(122,122,122,0)"},{"offset":0.228,"color":"#7a7a7a"},{"offset":0.236,"color":"#7a7a7a"},{"offset":0.236,"color":"rgba(122,122,122,0)"},
{"offset":0.2696,"color":"rgba(122,122,122,0)"},{"offset":0.2696,"color":"#7a7a7a"},{"offset":0.2776,"color":"#7a7a7a"},{"offset":0.2776,"color":"rgba(122,122,122,0)"},
{"offset":0.3112,"color":"rgba(122,122,122,0)"},{"offset":0.3112,"color":"#7a7a7a"},{"offset":0.3192,"color":"#7a7a7a"},{"offset":0.3192,"color":"rgba(122,122,122,0)"},
{"offset":0.3528,"color":"rgba(122,122,122,0)"},{"offset":0.3528,"color":"#7a7a7a"},{"offset":0.3608,"color":"#7a7a7a"},{"offset":0.3608,"color":"rgba(122,122,122,0)"},
{"offset":1,"color":"rgba(122,122,122,0)"}]}},
"encoding":{"x":{"field":"x0","type":"quantitative","scale":{"domain":[-0.7988,10.5234],"nice":false,"zero":false},"axis":null},"x2":{"field":"x1"},"y":{"field":"bel","type":"quantitative","scale":{"domain":[-0.2275,1.2632],"nice":false,"zero":false},"axis":null},"y2":{"field":"pl"}}},
{"data":{"name":"pl"},"mark":{"type":"line","interpolate":"step-after","color":"#ee8636","strokeWidth":1.6},
"encoding":{"x":{"field":"x","type":"quantitative","scale":{"domain":[-0.7988,10.5234],"nice":false,"zero":false},"axis":null},"y":{"field":"y","type":"quantitative","scale":{"domain":[-0.2275,1.2632],"nice":false,"zero":false},"axis":null},"order":{"field":"i","type":"quantitative"}}},
{"data":{"name":"bel"},"mark":{"type":"line","interpolate":"step-after","color":"#4b8dcf","strokeWidth":1.6},
"encoding":{"x":{"field":"x","type":"quantitative","scale":{"domain":[-0.7988,10.5234],"nice":false,"zero":false},"axis":null},"y":{"field":"y","type":"quantitative","scale":{"domain":[-0.2275,1.2632],"nice":false,"zero":false},"axis":null},"order":{"field":"i","type":"quantitative"}}},
{"data":{"name":"cdf"},"mark":{"type":"line","interpolate":"monotone","color":"#000","strokeWidth":2.2},
"encoding":{"x":{"field":"x","type":"quantitative","scale":{"domain":[-0.7988,10.5234],"nice":false,"zero":false},"axis":null},"y":{"field":"y","type":"quantitative","scale":{"domain":[-0.2275,1.2632],"nice":false,"zero":false},"axis":null}}},
{"data":{"values":[{"x":0.38,"x2":10,"y":1,"y2":1},{"x":0.38,"x2":6,"y":0.4009,"y2":0.4009},{"x":4,"x2":4,"y":0,"y2":0.8367},{"x":6,"x2":6,"y":0,"y2":0.8367}]},"mark":{"type":"rule","color":"#000","strokeWidth":1,"strokeDash":[4,3]},
"encoding":{"x":{"field":"x","type":"quantitative","scale":{"domain":[-0.7988,10.5234],"nice":false,"zero":false},"axis":null},"x2":{"field":"x2"},"y":{"field":"y","type":"quantitative","scale":{"domain":[-0.2275,1.2632],"nice":false,"zero":false},"axis":null},"y2":{"field":"y2"}}},
{"data":{"values":[{"x":5.36,"x2":5.36,"y":0,"y2":0.8152}]},"mark":{"type":"rule","color":"#e03535","strokeWidth":1.3,"strokeDash":[4,3]},
"encoding":{"x":{"field":"x","type":"quantitative","scale":{"domain":[-0.7988,10.5234],"nice":false,"zero":false},"axis":null},"x2":{"field":"x2"},"y":{"field":"y","type":"quantitative","scale":{"domain":[-0.2275,1.2632],"nice":false,"zero":false},"axis":null},"y2":{"field":"y2"}}},
{"data":{"name":"axisSolid"},"mark":{"type":"rule","color":"#111","strokeWidth":1.6},
"encoding":{"x":{"field":"x","type":"quantitative","scale":{"domain":[-0.7988,10.5234],"nice":false,"zero":false},"axis":null},"x2":{"field":"x2"},"y":{"field":"y","type":"quantitative","scale":{"domain":[-0.2275,1.2632],"nice":false,"zero":false},"axis":null},"y2":{"field":"y2"}}},
{"data":{"values":[{"x":4.05,"x2":5.95,"y":0.8152,"y2":0.8152}]},"mark":{"type":"rule","color":"#111","strokeWidth":1.6},
"encoding":{"x":{"field":"x","type":"quantitative","scale":{"domain":[-0.7988,10.5234],"nice":false,"zero":false},"axis":null},"x2":{"field":"x2"},"y":{"field":"y","type":"quantitative","scale":{"domain":[-0.2275,1.2632],"nice":false,"zero":false},"axis":null},"y2":{"field":"y2"}}},
{"data":{"name":"yArrow"},"mark":{"type":"point","shape":"M0,0L0.75,2L-0.75,2Z","size":144,"filled":true,"color":"#111","opacity":1,"strokeWidth":0},
"encoding":{"x":{"field":"x","type":"quantitative","scale":{"domain":[-0.7988,10.5234],"nice":false,"zero":false},"axis":null},"y":{"field":"y","type":"quantitative","scale":{"domain":[-0.2275,1.2632],"nice":false,"zero":false},"axis":null}}},
{"data":{"name":"xArrow"},"mark":{"type":"point","shape":"M0,0L-2,-0.75L-2,0.75Z","size":144,"filled":true,"color":"#111","opacity":1,"strokeWidth":0},
"encoding":{"x":{"field":"x","type":"quantitative","scale":{"domain":[-0.7988,10.5234],"nice":false,"zero":false},"axis":null},"y":{"field":"y","type":"quantitative","scale":{"domain":[-0.2275,1.2632],"nice":false,"zero":false},"axis":null}}},
{"data":{"values":[{"x":4,"y":0.8152}]},"mark":{"type":"point","shape":"M0,0L2,-0.8L2,0.8Z","size":100,"filled":true,"color":"#111","opacity":1,"strokeWidth":0},
"encoding":{"x":{"field":"x","type":"quantitative","scale":{"domain":[-0.7988,10.5234],"nice":false,"zero":false},"axis":null},"y":{"field":"y","type":"quantitative","scale":{"domain":[-0.2275,1.2632],"nice":false,"zero":false},"axis":null}}},
{"data":{"values":[{"x":6,"y":0.8152}]},"mark":{"type":"point","shape":"M0,0L-2,-0.8L-2,0.8Z","size":100,"filled":true,"color":"#111","opacity":1,"strokeWidth":0},
"encoding":{"x":{"field":"x","type":"quantitative","scale":{"domain":[-0.7988,10.5234],"nice":false,"zero":false},"axis":null},"y":{"field":"y","type":"quantitative","scale":{"domain":[-0.2275,1.2632],"nice":false,"zero":false},"axis":null}}},
{"data":{"name":"legendBox"},"mark":{"type":"rect","fill":"white","stroke":"#333","strokeWidth":1.3},
"encoding":{"x":{"field":"x","type":"quantitative","scale":{"domain":[-0.7988,10.5234],"nice":false,"zero":false},"axis":null},"x2":{"field":"x2"},"y":{"field":"y","type":"quantitative","scale":{"domain":[-0.2275,1.2632],"nice":false,"zero":false},"axis":null},"y2":{"field":"y2"}}},
{"data":{"name":"bpaSwatch"},"mark":{"type":"rect","fill":"#e7e7e7","stroke":"#999","strokeWidth":1.2},
"encoding":{"x":{"field":"x","type":"quantitative","scale":{"domain":[-0.7988,10.5234],"nice":false,"zero":false},"axis":null},"x2":{"field":"x2"},"y":{"field":"y","type":"quantitative","scale":{"domain":[-0.2275,1.2632],"nice":false,"zero":false},"axis":null},"y2":{"field":"y2"}}},
{"data":{"name":"hatchSwatch"},"mark":{"type":"rect","stroke":"#777","strokeWidth":1.2,"fill":{"gradient":"linear","x1":0,"y1":0,"x2":1,"y2":1,"stops":[
{"offset":0,"color":"rgba(122,122,122,0)"},
{"offset":0.06,"color":"rgba(122,122,122,0)"},{"offset":0.06,"color":"#7a7a7a"},{"offset":0.1,"color":"#7a7a7a"},{"offset":0.1,"color":"rgba(122,122,122,0)"},
{"offset":0.227,"color":"rgba(122,122,122,0)"},{"offset":0.227,"color":"#7a7a7a"},{"offset":0.267,"color":"#7a7a7a"},{"offset":0.267,"color":"rgba(122,122,122,0)"},
{"offset":0.393,"color":"rgba(122,122,122,0)"},{"offset":0.393,"color":"#7a7a7a"},{"offset":0.433,"color":"#7a7a7a"},{"offset":0.433,"color":"rgba(122,122,122,0)"},
{"offset":0.56,"color":"rgba(122,122,122,0)"},{"offset":0.56,"color":"#7a7a7a"},{"offset":0.6,"color":"#7a7a7a"},{"offset":0.6,"color":"rgba(122,122,122,0)"},
{"offset":0.727,"color":"rgba(122,122,122,0)"},{"offset":0.727,"color":"#7a7a7a"},{"offset":0.767,"color":"#7a7a7a"},{"offset":0.767,"color":"rgba(122,122,122,0)"},
{"offset":0.893,"color":"rgba(122,122,122,0)"},{"offset":0.893,"color":"#7a7a7a"},{"offset":0.933,"color":"#7a7a7a"},{"offset":0.933,"color":"rgba(122,122,122,0)"},
{"offset":1,"color":"rgba(122,122,122,0)"}]}},
"encoding":{"x":{"field":"x","type":"quantitative","scale":{"domain":[-0.7988,10.5234],"nice":false,"zero":false},"axis":null},"x2":{"field":"x2"},"y":{"field":"y","type":"quantitative","scale":{"domain":[-0.2275,1.2632],"nice":false,"zero":false},"axis":null},"y2":{"field":"y2"}}},
{"data":{"name":"blackLegend"},"mark":{"type":"rule","color":"#111","strokeWidth":1.5},
"encoding":{"x":{"field":"x","type":"quantitative","scale":{"domain":[-0.7988,10.5234],"nice":false,"zero":false},"axis":null},"x2":{"field":"x2"},"y":{"field":"y","type":"quantitative","scale":{"domain":[-0.2275,1.2632],"nice":false,"zero":false},"axis":null}}},
{"data":{"name":"blueLegend"},"mark":{"type":"rule","color":"#4b8dcf","strokeWidth":1.5},
"encoding":{"x":{"field":"x","type":"quantitative","scale":{"domain":[-0.7988,10.5234],"nice":false,"zero":false},"axis":null},"x2":{"field":"x2"},"y":{"field":"y","type":"quantitative","scale":{"domain":[-0.2275,1.2632],"nice":false,"zero":false},"axis":null}}},
{"data":{"name":"orangeLegend"},"mark":{"type":"rule","color":"#ee8636","strokeWidth":1.5},
"encoding":{"x":{"field":"x","type":"quantitative","scale":{"domain":[-0.7988,10.5234],"nice":false,"zero":false},"axis":null},"x2":{"field":"x2"},"y":{"field":"y","type":"quantitative","scale":{"domain":[-0.2275,1.2632],"nice":false,"zero":false},"axis":null}}},
{"data":{"values":[{"x":0.84,"x2":3.391,"y":0.67,"y2":0.898}]},"mark":{"type":"rect","fill":"white","stroke":"#222","strokeWidth":1.3},
"encoding":{"x":{"field":"x","type":"quantitative","scale":{"domain":[-0.7988,10.5234],"nice":false,"zero":false},"axis":null},"x2":{"field":"x2"},"y":{"field":"y","type":"quantitative","scale":{"domain":[-0.2275,1.2632],"nice":false,"zero":false},"axis":null},"y2":{"field":"y2"}}},
{"data":{"values":[{"x":5.099,"x2":5.644,"y":0.832,"y2":0.985},{"x":4.987,"x2":5.72,"y":-0.1393,"y2":-0.0175}]},"mark":{"type":"rect","fill":"white","stroke":"#c8494c","strokeWidth":1.5,"cornerRadius":6},
"encoding":{"x":{"field":"x","type":"quantitative","scale":{"domain":[-0.7988,10.5234],"nice":false,"zero":false},"axis":null},"x2":{"field":"x2"},"y":{"field":"y","type":"quantitative","scale":{"domain":[-0.2275,1.2632],"nice":false,"zero":false},"axis":null},"y2":{"field":"y2"}}},
{"data":{"name":"legendLeft"},"mark":{"type":"text","align":"left","baseline":"middle","fontSize":21.5},
"encoding":{"x":{"field":"x","type":"quantitative","scale":{"domain":[-0.7988,10.5234],"nice":false,"zero":false},"axis":null},"y":{"field":"y","type":"quantitative","scale":{"domain":[-0.2275,1.2632],"nice":false,"zero":false},"axis":null},"text":{"field":"t"}}},
{"data":{"name":"legendItalic"},"mark":{"type":"text","align":"left","baseline":"middle","fontSize":21.5,"fontStyle":"italic"},
"encoding":{"x":{"field":"x","type":"quantitative","scale":{"domain":[-0.7988,10.5234],"nice":false,"zero":false},"axis":null},"y":{"field":"y","type":"quantitative","scale":{"domain":[-0.2275,1.2632],"nice":false,"zero":false},"axis":null},"text":{"field":"t"}}},
{"data":{"name":"axisLabels"},"mark":{"type":"text","align":"right","baseline":"middle","fontSize":21},
"encoding":{"x":{"field":"x","type":"quantitative","scale":{"domain":[-0.7988,10.5234],"nice":false,"zero":false},"axis":null},"y":{"field":"y","type":"quantitative","scale":{"domain":[-0.2275,1.2632],"nice":false,"zero":false},"axis":null},"text":{"field":"t"}}},
{"data":{"values":[{"x":2.116,"y":0.829,"t":"The inner-layer"},{"x":2.116,"y":0.731,"t":"MCS"}]},"mark":{"type":"text","align":"center","baseline":"middle","fontSize":20},
"encoding":{"x":{"field":"x","type":"quantitative","scale":{"domain":[-0.7988,10.5234],"nice":false,"zero":false},"axis":null},"y":{"field":"y","type":"quantitative","scale":{"domain":[-0.2275,1.2632],"nice":false,"zero":false},"axis":null},"text":{"field":"t"}}},
{"data":{"values":[{"x":8.659,"y":-0.069,"t":"Wind power forecast"},{"x":8.659,"y":-0.167,"t":"error (MW)"},{"x":4,"y":0.866,"t":"0"},{"x":6,"y":0.866,"t":"1"}]},"mark":{"type":"text","align":"center","baseline":"middle","fontSize":21.5},
"encoding":{"x":{"field":"x","type":"quantitative","scale":{"domain":[-0.7988,10.5234],"nice":false,"zero":false},"axis":null},"y":{"field":"y","type":"quantitative","scale":{"domain":[-0.2275,1.2632],"nice":false,"zero":false},"axis":null},"text":{"field":"t"}}},
{"data":{"values":[{"x":3.762,"y":-0.093,"b":"e","sp":"wind","sb":"k"},{"x":5.17,"y":-0.085,"b":"e","sp":"wind","sb":""},{"x":5.86,"y":-0.093,"b":"e","sp":"wind","sb":"k'+1"}]},
"encoding":{"x":{"field":"x","type":"quantitative","scale":{"domain":[-0.7988,10.5234],"nice":false,"zero":false},"axis":null},"y":{"field":"y","type":"quantitative","scale":{"domain":[-0.2275,1.2632],"nice":false,"zero":false},"axis":null}},
"layer":[
{"mark":{"type":"text","align":"center","baseline":"middle","fontSize":25,"fontStyle":"italic"},"encoding":{"text":{"field":"b"}}},
{"mark":{"type":"text","align":"left","baseline":"middle","fontSize":12.5,"dx":6,"dy":-9},"encoding":{"text":{"field":"sp"}}},
{"mark":{"type":"text","align":"left","baseline":"middle","fontSize":13,"fontStyle":"italic","dx":5,"dy":10},"encoding":{"text":{"field":"sb"}}}]},
{"data":{"values":[{"x":0.039,"y":0.393,"b":"u","sp":"w","sb":"1"},{"x":5.244,"y":0.9098,"b":"u","sp":"w","sb":"2"}]},
"encoding":{"x":{"field":"x","type":"quantitative","scale":{"domain":[-0.7988,10.5234],"nice":false,"zero":false},"axis":null},"y":{"field":"y","type":"quantitative","scale":{"domain":[-0.2275,1.2632],"nice":false,"zero":false},"axis":null}},
"layer":[
{"mark":{"type":"text","align":"center","baseline":"middle","fontSize":25,"fontStyle":"italic"},"encoding":{"text":{"field":"b"}}},
{"mark":{"type":"text","align":"left","baseline":"middle","fontSize":13,"fontStyle":"italic","dx":6,"dy":-10},"encoding":{"text":{"field":"sp"}}},
{"mark":{"type":"text","align":"left","baseline":"middle","fontSize":13,"dx":6,"dy":8},"encoding":{"text":{"field":"sb"}}}]},
{"data":{"values":[{"x":6,"y":0.4009}]},"mark":{"type":"circle","size":45,"color":"#000","opacity":1},
"encoding":{"x":{"field":"x","type":"quantitative","scale":{"domain":[-0.7988,10.5234],"nice":false,"zero":false},"axis":null},"y":{"field":"y","type":"quantitative","scale":{"domain":[-0.2275,1.2632],"nice":false,"zero":false},"axis":null}}},
{"data":{"values":[{"x":5.36,"y":0.8152}]},"mark":{"type":"circle","size":45,"color":"#c00000","opacity":1},
"encoding":{"x":{"field":"x","type":"quantitative","scale":{"domain":[-0.7988,10.5234],"nice":false,"zero":false},"axis":null},"y":{"field":"y","type":"quantitative","scale":{"domain":[-0.2275,1.2632],"nice":false,"zero":false},"axis":null}}}
]
}
]
}
